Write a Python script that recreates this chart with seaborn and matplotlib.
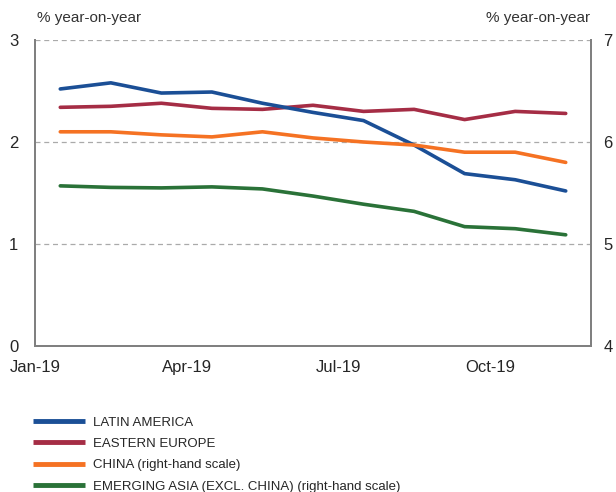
import numpy as np
import pandas as pd
import seaborn as sns
import matplotlib.pyplot as plt
from matplotlib.lines import Line2D

# monthly data, Jan-19 .. Nov-19
months = ["Jan-19", "Feb-19", "Mar-19", "Apr-19", "May-19", "Jun-19",
          "Jul-19", "Aug-19", "Sep-19", "Oct-19", "Nov-19"]
latin_america = [2.52, 2.58, 2.48, 2.49, 2.38, 2.29, 2.21, 1.97, 1.69, 1.63, 1.52]
eastern_europe = [2.34, 2.35, 2.38, 2.33, 2.32, 2.36, 2.30, 2.32, 2.22, 2.30, 2.28]
china = [6.10, 6.10, 6.07, 6.05, 6.10, 6.04, 6.00, 5.97, 5.90, 5.90, 5.80]
emerging_asia = [5.57, 5.555, 5.55, 5.56, 5.54, 5.47, 5.39, 5.32, 5.17, 5.15, 5.09]

tick_labels = ["Jan-19", "Apr-19", "Jul-19", "Oct-19"]
legend_labels = ["LATIN AMERICA", "EASTERN EUROPE", "CHINA (right-hand scale)",
                 "EMERGING ASIA (EXCL. CHINA) (right-hand scale)"]

blue = "#1b4f96"
red = "#a52d45"
orange = "#f57223"
green = "#2a7238"

sns.set_theme(style="white")
plt.rcParams["font.family"] = ["Liberation Sans", "DejaVu Sans"]

df = pd.DataFrame({"pos": np.arange(len(months)) + 0.5,
                   "latam": latin_america, "eeur": eastern_europe,
                   "china": china, "easia": emerging_asia})

fig = plt.figure(figsize=(6.16, 4.92), dpi=100)
ax = fig.add_axes([35 / 616, 1 - 346 / 492, 556 / 616, 306 / 492])
ax2 = ax.twinx()

lw = 2.6
sns.lineplot(data=df, x="pos", y="latam", ax=ax, color=blue, lw=lw, zorder=4)
sns.lineplot(data=df, x="pos", y="eeur", ax=ax, color=red, lw=lw, zorder=3)
sns.lineplot(data=df, x="pos", y="china", ax=ax2, color=orange, lw=lw)
sns.lineplot(data=df, x="pos", y="easia", ax=ax2, color=green, lw=lw)

ax.set_xlim(0, 11)
ax.set_ylim(0, 3)
ax2.set_ylim(4, 7)
ax.set_yticks([0, 1, 2, 3])
ax2.set_yticks([4, 5, 6, 7])
ax.set_xticks([0, 3, 6, 9])
ax.set_xticklabels(tick_labels)
ax.set_xlabel("")
ax.set_ylabel("")
ax2.set_ylabel("")

for y in [1, 2, 3]:
    ax.axhline(y, color="#aaaaaa", lw=0.9, ls=(0, (4, 3)), zorder=1)

gray = "#808080"
for a in (ax, ax2):
    a.spines["top"].set_visible(False)
    for s in ["left", "right", "bottom"]:
        a.spines[s].set_color(gray)
        a.spines[s].set_linewidth(1.4)
ax.tick_params(axis="x", direction="in", length=4, color=gray, labelsize=12, pad=10)
ax.tick_params(axis="y", length=0, labelsize=12, pad=12)
ax2.tick_params(axis="y", length=0, labelsize=12, pad=9)

fig.text(37 / 616, 1 - 18 / 492, "% year-on-year", fontsize=11, color="#333333", va="center")
fig.text(590 / 616, 1 - 18 / 492, "% year-on-year", fontsize=11, color="#333333",
         va="center", ha="right")

handles = [Line2D([], [], color=c, lw=3.5, solid_capstyle="butt")
           for c in [blue, red, orange, green]]
fig.legend(handles, legend_labels, loc="upper left", bbox_to_anchor=(28 / 616, 1 - 411 / 492),
           frameon=False, handlelength=3.9, handletextpad=0.6,
           labelspacing=0.7, borderaxespad=0, prop={"size": 9.5})

fig.savefig("out.png", dpi=100)
